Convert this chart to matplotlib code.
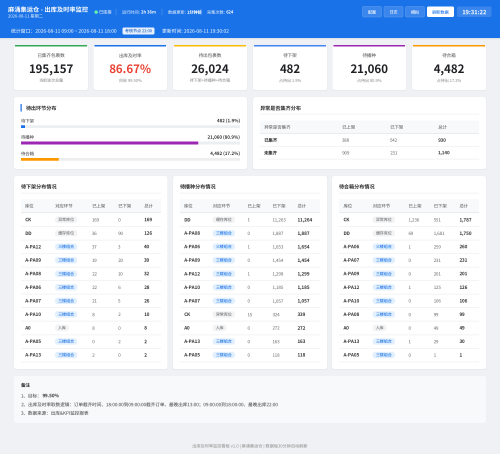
import io
import matplotlib
matplotlib.use('Agg')
import matplotlib.pyplot as plt
import numpy as np
from matplotlib.patches import FancyBboxPatch, Rectangle

plt.rcParams['font.family'] = ['Noto Sans CJK SC', 'DejaVu Sans']
plt.rcParams['text.hinting'] = 'no_hinting'

# kpi cards
kpi_titles = ['已集齐包裹数', '出库及时率', '待出包裹数', '待下架', '待播种', '待合箱']
kpi_values = ['195,157', '86.67%', '26,024', '482', '21,060', '4,482']
kpi_notes = ['当前波次总量', '目标 99.50%', '待下架+待播种+待合箱', '占待出 1.9%', '占待出 80.9%', '占待出 17.2%']
kpi_colors = ['#34a853', '#1a73e8', '#fbbc04', '#4285f4', '#9c27b0', '#ff9800']

# stage distribution
stage_names = ['待下架', '待播种', '待合箱']
stage_counts = [482, 21060, 4482]
stage_pct = [1.9, 80.9, 17.2]
stage_colors = ['#1a73e8', '#9c27b0', '#ff9800']

# abnormal table
abn_head = ['异常是否集齐', '已上架', '已下架', '总计']
abn_names = ['已集齐', '未集齐']
abn_up = [388, 909]
abn_down = [542, 231]
abn_total = [930, 1140]

head = ['库位', '对应环节', '已上架', '已下架', '总计']

# three tables
t1_loc = ['CK', 'DD', 'A-PA12', 'A-PA09', 'A-PA08', 'A-PA06', 'A-PA07', 'A-PA10', 'A0', 'A-PA05', 'A-PA13']
t1_stage = ['异常库位', '缓存库位', '三楼组合', '三楼组合', '三楼组合', '三楼组合', '三楼组合', '三楼组合', '入库', '三楼组合', '三楼组合']
t1_up = [169, 36, 37, 19, 22, 22, 21, 8, 8, 0, 2]
t1_down = [0, 90, 3, 20, 10, 6, 5, 2, 0, 2, 0]
t1_total = [169, 126, 40, 39, 32, 28, 26, 10, 8, 2, 2]

t2_loc = ['DD', 'A-PA08', 'A-PA06', 'A-PA09', 'A-PA12', 'A-PA10', 'A-PA07', 'CK', 'A0', 'A-PA13', 'A-PA05']
t2_stage = ['缓存库位', '三楼组合', '三楼组合', '三楼组合', '三楼组合', '三楼组合', '三楼组合', '异常库位', '入库', '三楼组合', '三楼组合']
t2_up = [1, 0, 1, 0, 1, 0, 0, 15, 0, 0, 0]
t2_down = [11263, 1887, 1653, 1454, 1298, 1185, 1057, 324, 272, 163, 118]
t2_total = [11264, 1887, 1654, 1454, 1299, 1185, 1057, 339, 272, 163, 118]

t3_loc = ['CK', 'DD', 'A-PA06', 'A-PA07', 'A-PA09', 'A-PA12', 'A-PA10', 'A-PA08', 'A0', 'A-PA13', 'A-PA05']
t3_stage = ['异常库位', '缓存库位', '三楼组合', '三楼组合', '三楼组合', '三楼组合', '三楼组合', '三楼组合', '入库', '三楼组合', '三楼组合']
t3_up = [1236, 69, 1, 0, 0, 1, 0, 0, 0, 1, 0]
t3_down = [551, 1681, 259, 231, 201, 125, 106, 99, 49, 29, 1]
t3_total = [1787, 1750, 260, 231, 201, 126, 106, 99, 49, 30, 1]

fig = plt.figure(figsize=(5.0, 4.54), dpi=100, facecolor='#f0f2f5')
ax = fig.add_axes([0, 0, 1, 1])
ax.set_xlim(0, 500)
ax.set_ylim(454, 0)
ax.axis('off')


def box(x0, y0, x1, y1, color='white', r=2.5, z=1, ec='none', lw=0):
    p = FancyBboxPatch((x0 + r, y0 + r), x1 - x0 - 2 * r, y1 - y0 - 2 * r,
                       boxstyle='round,pad=%s,rounding_size=%s' % (r, r),
                       fc=color, ec=ec, lw=lw, zorder=z)
    ax.add_patch(p)
    return p


def card(x0, y0, x1, y1):
    box(x0 - 0.5, y0 - 0.2, x1 + 0.5, y1 + 1, color='#e8eaee', z=1)
    box(x0, y0, x1, y1, z=2)


def txt(x, y, s, size=3.4, color='#555555', weight='normal', ha='left', z=5):
    # baseline so mixed latin / cjk rows stay level
    ax.text(x, y + size * 0.52, s, fontsize=size, color=color, fontweight=weight, ha=ha, va='baseline', zorder=z)


def hline(x0, x1, y, color='#eef0f3', lw=0.5):
    ax.plot([x0, x1], [y, y], color=color, lw=lw, zorder=3, solid_capstyle='butt')


# header
ax.add_patch(Rectangle((0, 0), 500, 38, fc='#1a73e8', ec='none', zorder=1))
ax.add_patch(Rectangle((0, 38), 500, 1.2, fc='#dfe3e8', ec='none', zorder=1))
txt(8, 9.3, '麻涌集运仓 - 出库及时率监控', size=4.5, color='white', weight='bold')
txt(8, 16, '2026-08-11 星期二', size=3.0, color='#d5e5fb')
ax.plot([96], [12], 'o', ms=1.5, color='#69f0ae', zorder=5)
txt(99, 12, '已连接', size=3.1, color='#e3eefc')
txt(122, 12, '运行时间: ', size=3.0, color='#d5e5fb')
txt(141, 12, '2h 36m', size=3.0, color='white', weight='bold')
txt(168, 12, '数据更新: ', size=3.0, color='#d5e5fb')
txt(187, 12, '1分钟前', size=3.0, color='white', weight='bold')
txt(207, 12, '采集次数: ', size=3.0, color='#d5e5fb')
txt(226, 12, '624', size=3.0, color='white', weight='bold')
for sx in [116, 162, 201]:
    ax.plot([sx, sx], [9, 15], color='#5a9bef', lw=0.4, zorder=4)

txt(11, 31, '统计窗口：2026-08-11 09:00 ~ 2026-08-11 18:00', size=3.5, color='#e8f0fd')
box(122.5, 27.5, 154.5, 34.5, color='#e8f0fd', r=1.5, z=3)
txt(138.5, 31, '考核节点 22:00', size=2.9, color='#1a5fc0', ha='center')
txt(162, 31, '更新时间: 2026-08-11 19:30:02', size=3.5, color='#e8f0fd')

btn_x = [362.5, 384, 405.5]
btn_names = ['配置', '日志', '模拟']
for bx, name in zip(btn_x, btn_names):
    box(bx, 6.5, bx + 19, 17, color='#3a86ec', r=1.5, z=3, ec='#5a9bef', lw=0.4)
    txt(bx + 9.5, 12, name, size=3.0, color='white', ha='center')
box(427, 6.5, 454, 17, color='white', r=1.5, z=3)
txt(440.5, 12, '刷新数据', size=3.0, color='#1a73e8', ha='center')
box(457, 6.5, 491.5, 17, color='#3a86ec', r=1.5, z=3)
txt(474.2, 12, '19:31:22', size=4.2, color='white', weight='bold', ha='center')

# kpi row
kpi_x0 = [14, 93.5, 173, 253, 332.5, 412]
kpi_x1 = [88, 167, 247, 327, 406, 486]
for i in range(6):
    card(kpi_x0[i], 45, kpi_x1[i], 90)
    ax.add_patch(Rectangle((kpi_x0[i] + 1, 45), kpi_x1[i] - kpi_x0[i] - 2, 1.6, fc=kpi_colors[i], ec='none', zorder=3))
    cx = (kpi_x0[i] + kpi_x1[i]) / 2
    txt(cx, 55.5, kpi_titles[i], size=3.3, color='#666666', ha='center')
    vcolor = '#ea4335' if i == 1 else '#202124'
    txt(cx, 68.8, kpi_values[i], size=8.3, color=vcolor, weight='bold', ha='center')
    txt(cx, 80.5, kpi_notes[i], size=2.9, color='#999999', ha='center')

# stage panel
card(14, 97, 247, 169)
ax.add_patch(Rectangle((20.5, 104), 1.2, 7.5, fc='#1a73e8', ec='none', zorder=3))
txt(26, 108, '待出环节分布', size=3.7, color='#333333', weight='bold')
stage_total = sum(stage_counts)
track_x0 = 21
track_w = 219
stage_y = [125.3, 141.7, 158]
for i in range(3):
    y = stage_y[i]
    txt(21, y - 4.6, stage_names[i], size=3.2, color='#555555')
    txt(240, y - 4.6, '%s (%.1f%%)' % (format(stage_counts[i], ','), stage_pct[i]), size=3.2, color='#333333', weight='bold', ha='right')
    ax.barh(y + 1.35, track_w, height=2.9, left=track_x0, color='#eceef1', zorder=3)
    ax.barh(y + 1.35, track_w * stage_counts[i] / stage_total, height=2.9, left=track_x0, color=stage_colors[i], zorder=4)

# abnormal panel
card(253, 97, 486, 169)
txt(260, 108, '异常是否集齐分布', size=3.7, color='#333333', weight='bold')
hline(260, 479, 114)
ax.add_patch(Rectangle((260, 120.7), 219, 12.3, fc='#f8f9fb', ec='none', zorder=3))
hline(260, 479, 133.2, color='#e6e8ec', lw=0.6)
abn_cols = [264, 342, 390, 438]
for cx, h in zip(abn_cols, abn_head):
    txt(cx, 127, h, size=3.2, color='#666666')
for i in range(2):
    y = 140 + i * 12.7
    txt(abn_cols[0], y, abn_names[i], size=3.2, color='#333333', weight='bold')
    txt(abn_cols[1], y, format(abn_up[i], ','), size=3.2, color='#777777')
    txt(abn_cols[2], y, format(abn_down[i], ','), size=3.2, color='#777777')
    txt(abn_cols[3], y, format(abn_total[i], ','), size=3.2, color='#333333', weight='bold')
    hline(260, 479, y + 6.3)


def draw_table(x0, x1, tx0, tx1, cols, title, loc, stage, up, down, total):
    card(x0, 176, x1, 369)
    txt(tx0, 186.7, title, size=3.7, color='#333333', weight='bold')
    hline(tx0, tx1, 193)
    ax.add_patch(Rectangle((tx0, 199), tx1 - tx0, 13.3, fc='#f8f9fb', ec='none', zorder=3))
    hline(tx0, tx1, 212.4, color='#e6e8ec', lw=0.6)
    for cx, h in zip(cols, head):
        txt(cx, 205.8, h, size=3.2, color='#666666')
    for i in range(len(loc)):
        y = 219.7 + i * 13.53
        txt(cols[0], y, loc[i], size=3.3, color='#333333', weight='bold')
        if stage[i] == '三楼组合':
            bg, fg, w = '#e3f0fd', '#1a73e8', 22.3
        elif stage[i] == '入库':
            bg, fg, w = '#f3f4f6', '#777777', 14
        else:
            bg, fg, w = '#f3f4f6', '#777777', 22.3
        box(cols[1], y - 3.2, cols[1] + w, y + 3.2, color=bg, r=3.1, z=3)
        txt(cols[1] + w / 2, y, stage[i], size=2.9, color=fg, ha='center')
        txt(cols[2], y, format(up[i], ','), size=3.2, color='#777777')
        txt(cols[3], y, format(down[i], ','), size=3.2, color='#777777')
        txt(cols[4], y, format(total[i], ','), size=3.3, color='#333333', weight='bold')
        hline(tx0, tx1, y + 6.7)


draw_table(14, 167.5, 21, 161, [25, 55, 92, 118, 144], '待下架分布情况', t1_loc, t1_stage, t1_up, t1_down, t1_total)
draw_table(173, 327, 180, 320, [184, 212.7, 247.3, 272.3, 297.3], '待播种分布情况', t2_loc, t2_stage, t2_up, t2_down, t2_total)
draw_table(332, 486, 339, 479, [343.3, 372.7, 408.3, 433.7, 459.3], '待合箱分布情况', t3_loc, t3_stage, t3_up, t3_down, t3_total)

# notes
box(14, 376, 486, 423, color='#f8f9fb', z=2)
txt(21, 385, '备注', size=3.3, color='#333333', weight='bold')
txt(21, 395.7, '1、目标：', size=3.3, color='#555555')
txt(42.3, 395.7, '99.50%', size=3.3, color='#333333', weight='bold')
txt(21, 404.5, '2、出库及时率取数逻辑：订单截齐时间、18:00:00到09:00:00截齐订单、最晚出库13:00；09:00:00到18:00:00、最晚出库22:00', size=3.3, color='#555555')
txt(21, 413, '3、数据来源：出库&KPI监控报表', size=3.3, color='#555555')

# footer
txt(250, 445.7, '出库及时率监控看板 v1.0 | 麻涌集运仓 | 数据每30分钟自动刷新', size=3.0, color='#999999', ha='center')

# draw big then shrink, tiny text comes out much cleaner this way
scale = 4
buf = io.BytesIO()
fig.savefig(buf, format='png', dpi=100 * scale, facecolor=fig.get_facecolor())
buf.seek(0)
big = plt.imread(buf)[:, :, :3]
h = big.shape[0] // scale
w = big.shape[1] // scale
small = big[:h * scale, :w * scale].reshape(h, scale, w, scale, 3).mean(axis=(1, 3))
plt.imsave('out.png', np.clip(small, 0, 1))
